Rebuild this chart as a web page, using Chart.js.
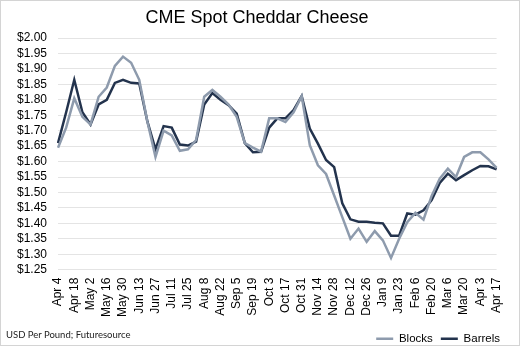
<!DOCTYPE html>
<html>
<head>
<meta charset="utf-8">
<script src="https://cdn.jsdelivr.net/npm/chart.js@4"></script>
<style>
  body { margin: 0; background: #fff; }
  #wrap { position: relative; width: 520px; height: 346px; box-sizing: border-box; border: 1px solid #d4d4d4; }
  #note { position: absolute; left: 5px; top: 328px; font: 9.5px/11px Lato, "Liberation Sans", sans-serif; color: #222; }
</style>
</head>
<body>
<div id="wrap">
  <canvas id="lineChart"></canvas>
  <div id="note">USD Per Pound; Futuresource</div>
</div>
<script>
'use strict';
// weekly dates, every other one is shown on the axis
const weeks = [
  'Apr 4', 'Apr 11', 'Apr 18', 'Apr 25', 'May 2', 'May 9', 'May 16', 'May 23', 'May 30',
  'Jun 6', 'Jun 13', 'Jun 20', 'Jun 27', 'Jul 4', 'Jul 11', 'Jul 18', 'Jul 25',
  'Aug 1', 'Aug 8', 'Aug 15', 'Aug 22', 'Aug 29', 'Sep 5', 'Sep 12', 'Sep 19', 'Sep 26',
  'Oct 3', 'Oct 10', 'Oct 17', 'Oct 24', 'Oct 31', 'Nov 7', 'Nov 14', 'Nov 21', 'Nov 28',
  'Dec 5', 'Dec 12', 'Dec 19', 'Dec 26', 'Jan 2', 'Jan 9', 'Jan 16', 'Jan 23', 'Jan 30',
  'Feb 6', 'Feb 13', 'Feb 20', 'Feb 27', 'Mar 6', 'Mar 13', 'Mar 20', 'Mar 27',
  'Apr 3', 'Apr 10', 'Apr 17'
];

const blocks = [
  1.645, 1.71, 1.805, 1.745, 1.72, 1.81, 1.84, 1.91, 1.94, 1.92, 1.865,
  1.73, 1.615, 1.70, 1.685, 1.635, 1.64, 1.67, 1.81, 1.832, 1.81, 1.785,
  1.745, 1.66, 1.645, 1.632, 1.74, 1.74, 1.728, 1.76, 1.812, 1.653, 1.588,
  1.56, 1.49, 1.42, 1.35, 1.383, 1.34, 1.375, 1.345, 1.288, 1.35, 1.404,
  1.434, 1.412, 1.489, 1.545, 1.577, 1.55, 1.615, 1.63, 1.63, 1.607, 1.58
];

const barrels = [
  1.66, 1.76, 1.865, 1.76, 1.72, 1.785, 1.80, 1.855, 1.865, 1.855, 1.853,
  1.73, 1.64, 1.715, 1.71, 1.655, 1.652, 1.665, 1.785, 1.822, 1.80, 1.783,
  1.755, 1.66, 1.63, 1.632, 1.71, 1.74, 1.74, 1.767, 1.812, 1.707, 1.658,
  1.605, 1.582, 1.465, 1.413, 1.405, 1.405, 1.402, 1.40, 1.36, 1.36, 1.432,
  1.428, 1.442, 1.475, 1.531, 1.561, 1.54, 1.556, 1.572, 1.586, 1.585, 1.575
];

const yMin = 1.25;
const yMax = 2.00;
const yStep = 0.05;

const font = '"Liberation Sans", Arial, sans-serif';

const ctxL = document.getElementById('lineChart').getContext('2d');
const myLineChart = new Chart(ctxL, {
  type: 'line',
  data: {
    labels: weeks,
    datasets: [
      {label: 'Blocks',
      data: blocks,
      borderColor: '#8e9bad',
      backgroundColor: '#8e9bad',
      borderWidth: 2.5,
      pointRadius: 0,
      tension: 0},
      {label: 'Barrels',
      data: barrels,
      borderColor: '#23334d',
      backgroundColor: '#23334d',
      borderWidth: 2.5,
      pointRadius: 0,
      tension: 0}
    ]
  },
  options: {
    responsive: true,
    maintainAspectRatio: false,
    animation: false,
    layout: {padding: {left: 5, right: 11, top: 0, bottom: -9.5}},
    plugins: {
      title: {
        display: true,
        text: 'CME Spot Cheddar Cheese',
        color: '#000',
        font: {family: font, size: 18, weight: 'normal'},
        padding: {top: 6, bottom: 9.5}
      },
      legend: {
        position: 'bottom',
        align: 'end',
        labels: {
          usePointStyle: true,
          pointStyle: 'line',
          pointStyleWidth: 17,
          color: '#000',
          font: {family: font, size: 11.5},
          padding: 8
        }
      },
      tooltip: {enabled: false}
    },
    scales: {
      x: {
        grid: {display: false, drawTicks: false},
        border: {display: false},
        ticks: {
          autoSkip: false,
          maxRotation: 90,
          minRotation: 90,
          padding: 8,
          color: '#000',
          font: {family: font, size: 12},
          callback: function(val, idx) {
            return idx % 2 === 0 ? weeks[idx] : '';
          }
        }
      },
      y: {
        min: yMin,
        max: yMax,
        grid: {color: '#e4e4e4', drawTicks: false},
        border: {display: false},
        ticks: {
          autoSkip: false,
          stepSize: yStep,
          padding: 11,
          color: '#000',
          font: {family: font, size: 12},
          callback: function(val) {
            return '$' + Number(val).toFixed(2);
          }
        }
      },
      // empty right axis, only keeps a small gap right of the plot
      yRight: {
        position: 'right',
        grid: {display: false, drawTicks: false},
        border: {display: false},
        ticks: {display: false},
        afterFit: function(scale) { scale.width = 4.5; }
      }
    }
  }
});
</script>
</body>
</html>
